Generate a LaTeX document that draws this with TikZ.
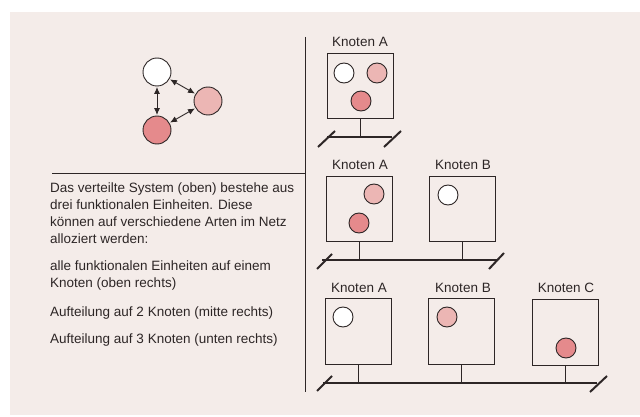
\documentclass[tikz,border=0pt]{standalone}
\usepackage{fontspec}
\setmainfont{Liberation Sans}
\usetikzlibrary{arrows.meta}
\definecolor{paper}{RGB}{244,236,233}
\definecolor{ink}{RGB}{45,38,38}
\definecolor{rosa}{RGB}{236,182,180}
\definecolor{rot}{RGB}{229,138,140}
\begin{document}
\begin{tikzpicture}[x=1pt,y=-1pt,
  unit/.style={circle, draw=ink, line width=0.9pt, minimum size=28pt, inner sep=0pt},
  slot/.style={circle, draw=ink, line width=0.9pt, minimum size=20pt, inner sep=0pt},
  knoten/.style={draw=ink, line width=1pt, minimum width=66pt, minimum height=65pt, inner sep=0pt},
  txt/.style={font=\fontsize{13.5}{17}\selectfont, text=ink, inner sep=0pt},
  link/.style={{Latex[length=7pt,width=6pt]}-{Latex[length=7pt,width=6pt]}, draw=ink, line width=0.9pt, shorten >=0.5pt, shorten <=0.5pt},
  bus/.style={draw=ink, line width=2.2pt},
  stem/.style={draw=ink, line width=0.9pt},
  tick/.style={draw=ink, line width=2pt},
  divider/.style={draw=ink, line width=1pt}]
\useasboundingbox (0,0) rectangle (640,417);
\fill[paper] (10,12) rectangle (640,415);

% dividers
\draw[divider] (305,37) -- (305,392);
\draw[divider] (52,174) -- (305,174);

% the distributed system: three functional units
\node[unit, fill=white] (u1) at (157,72) {};
\node[unit, fill=rosa] (u2) at (208,101) {};
\node[unit, fill=rot] (u3) at (157,130) {};
\draw[link] (u1) -- (u3);
\draw[link] (u1) -- (u2);
\draw[link] (u2) -- (u3);

% explanation
\node[txt, anchor=north west, align=left] (t1) at (50,182.5)
  {Das verteilte System (oben) bestehe aus\\drei funktionalen Einheiten. Diese\\k\"onnen auf verschiedene Arten im Netz\\alloziert werden:};
\node[txt, anchor=north west, align=left] (t2) at (50,260.5)
  {alle funktionalen Einheiten auf einem\\Knoten (oben rechts)};
\node[txt, anchor=north west] (t3) at (50,307) {Aufteilung auf 2 Knoten (mitte rechts)};
\node[txt, anchor=north west] (t4) at (50,334) {Aufteilung auf 3 Knoten (unten rechts)};

% one node
\node[txt] (l1A) at (360,42) {Knoten A};
\node[knoten] (k1A) at (360,86.5) {};
\node[slot, fill=white] (s1a) at (344,73) {};
\node[slot, fill=rosa] (s1b) at (377,73) {};
\node[slot, fill=rot] (s1c) at (361,101) {};
\coordinate (b1L) at (327,137);
\coordinate (b1R) at (392,137);
\draw[bus] (b1L) -- (b1R);
\draw[stem] (k1A.south) -- (k1A.south |- b1L);
\draw[tick] ([shift={(-9,10)}]b1L) -- ([shift={(8,-6)}]b1L);
\draw[tick] ([shift={(-8,10)}]b1R) -- ([shift={(9,-6)}]b1R);

% two nodes
\node[txt] (l2A) at (360,165) {Knoten A};
\node[txt] (l2B) at (463,165) {Knoten B};
\node[knoten] (k2A) at (359.5,209) {};
\node[knoten] (k2B) at (462.5,209) {};
\node[slot, fill=rosa] (s2b) at (374,194) {};
\node[slot, fill=rot] (s2c) at (359,223) {};
\node[slot, fill=white] (s2a) at (448,195) {};
\coordinate (b2L) at (322,260);
\coordinate (b2R) at (497,260);
\draw[bus] (b2L) -- (b2R);
\draw[stem] (k2A.south) -- (k2A.south |- b2L);
\draw[stem] (k2B.south) -- (k2B.south |- b2L);
\draw[tick] ([shift={(-5,9)}]b2L) -- ([shift={(10,-6)}]b2L);
\draw[tick] ([shift={(-8,9)}]b2R) -- ([shift={(7,-7)}]b2R);

% three nodes
\node[txt] (l3A) at (359,288) {Knoten A};
\node[txt] (l3B) at (463,288) {Knoten B};
\node[txt] (l3C) at (566,288) {Knoten C};
\node[knoten, minimum height=66pt] (k3A) at (358,331) {};
\node[knoten, minimum height=66pt] (k3B) at (461,331) {};
\node[knoten, minimum height=66pt] (k3C) at (565.5,332.5) {};
\node[slot, fill=white] (s3a) at (343,317) {};
\node[slot, fill=rosa] (s3b) at (447,317) {};
\node[slot, fill=rot] (s3c) at (566,348) {};
\coordinate (b3L) at (323,383);
\coordinate (b3R) at (597,383);
\draw[bus] (b3L) -- (b3R);
\draw[stem] (k3A.south) -- (k3A.south |- b3L);
\draw[stem] (k3B.south) -- (k3B.south |- b3L);
\draw[stem] (k3C.south) -- (k3C.south |- b3L);
\draw[tick] ([shift={(-6,8)}]b3L) -- ([shift={(9,-7)}]b3L);
\draw[tick] ([shift={(-7,9)}]b3R) -- ([shift={(10,-7)}]b3R);
\end{tikzpicture}
\end{document}
